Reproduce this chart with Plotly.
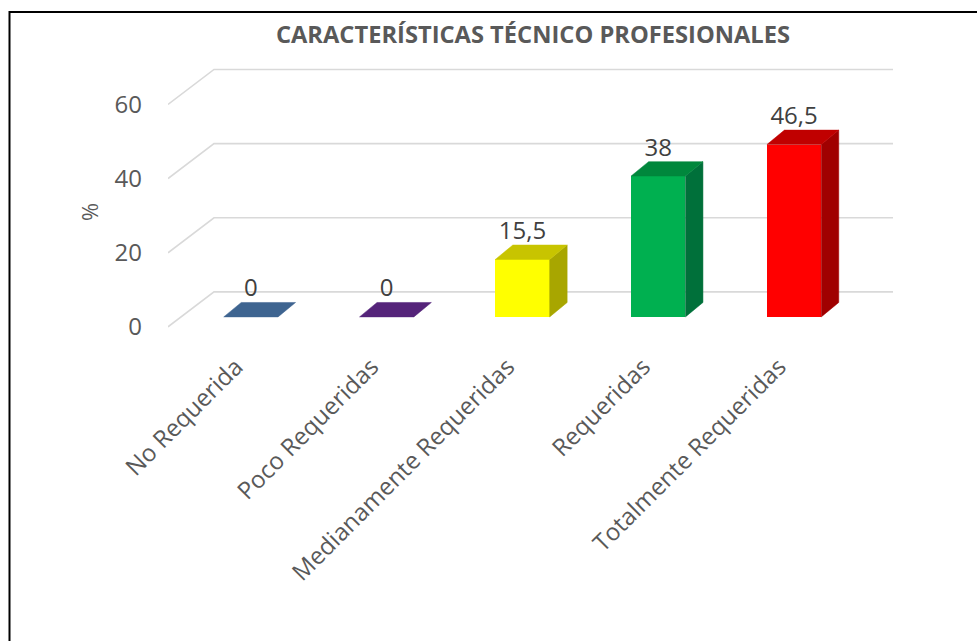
import plotly.graph_objects as go

# ---- data ----
categories = ["No Requerida", "Poco Requeridas", "Medianamente Requeridas",
              "Requeridas", "Totalmente Requeridas"]
values = [0, 0, 15.5, 38, 46.5]
y_ticks = [0, 20, 40, 60]
front_colors = ["#4472C4", "#7030A0", "#FFFF00", "#00B050", "#FF0000"]
top_colors = ["#3E6490", "#55247A", "#C8C400", "#00873C", "#C00000"]
side_colors = ["#335582", "#451E66", "#A8A600", "#00703A", "#A00000"]
title_text = "CARACTERÍSTICAS TÉCNICO PROFESIONALES"
y_title = "%"

# ---- layout geometry (pixels) ----
W, H = 977, 641
L, R, T, B = 168, 84, 60, 303
X_MIN, Y_MIN, Y_MAX = -0.5, -3, 72
WALL_DX, WALL_DY = 46, 35          # depth of the 3D walls
BAR_OFF_DX, BAR_OFF_DY = 15, 10    # bar front face offset from front plane
BAR_DX, BAR_DY = 17.5, 14.4        # bar depth
BAR_W = 0.4                        # bar width as fraction of category

n = len(categories)
plot_w = W - L - R
plot_h = H - T - B
ppx = (plot_w - WALL_DX) / n
ppy = plot_h / (Y_MAX - Y_MIN)
x_max = X_MIN + plot_w / ppx


def ux(p):
    return p / ppx


def uy(p):
    return p / ppy


fig = go.Figure()

# gridlines (drawn below the bars)
shapes = []
for v in y_ticks:
    x0, x1, x2 = X_MIN, X_MIN + ux(WALL_DX), x_max
    y0, y1 = v, v + uy(WALL_DY)
    shapes.append(dict(type="path", xref="x", yref="y", layer="below",
                       path=f"M {x0},{y0} L {x1},{y1} L {x2},{y1}",
                       line=dict(color="#D9D9D9", width=1.6)))

ox, oy = ux(BAR_OFF_DX), uy(BAR_OFF_DY)
ddx, ddy = ux(BAR_DX), uy(BAR_DY)
half = BAR_W / 2
centers = [i + ox for i in range(n)]

# front faces
fig.add_trace(go.Bar(x=centers, y=values, base=oy, width=BAR_W,
                     marker=dict(color=front_colors, line=dict(width=0)),
                     hoverinfo="skip", showlegend=False))

# side and top faces
for i, v in enumerate(values):
    c = centers[i]
    top = oy + v
    if v > 0:
        fig.add_trace(go.Scatter(
            x=[c + half, c + half, c + half + ddx, c + half + ddx, c + half],
            y=[oy, top, top + ddy, oy + ddy, oy],
            mode="lines", fill="toself", fillcolor=side_colors[i],
            line=dict(width=0.5, color=side_colors[i]),
            hoverinfo="skip", showlegend=False))
    fig.add_trace(go.Scatter(
        x=[c - half, c + half, c + half + ddx, c - half + ddx, c - half],
        y=[top, top, top + ddy, top + ddy, top],
        mode="lines", fill="toself", fillcolor=top_colors[i],
        line=dict(width=0.5, color=top_colors[i]),
        hoverinfo="skip", showlegend=False))

# data labels
labels = [(f"{v:g}").replace(".", ",") for v in values]
fig.add_trace(go.Scatter(
    x=centers, y=[oy + v + ddy for v in values], mode="text", text=labels,
    textposition="top center",
    textfont=dict(family="Open Sans", size=24, color="#404040"),
    hoverinfo="skip", showlegend=False))

shapes.append(dict(type="rect", xref="paper", yref="paper",
                   x0=(9.5 - L) / plot_w, x1=(W + 5 - L) / plot_w,
                   y0=(H - B - (H + 5)) / plot_h, y1=(H - B - 12) / plot_h,
                   line=dict(color="black", width=2),
                   fillcolor="rgba(0,0,0,0)", layer="above"))

fig.update_layout(
    width=W, height=H,
    margin=dict(l=L, r=R, t=T, b=B, autoexpand=False),
    paper_bgcolor="white", plot_bgcolor="white",
    bargap=0,
    xaxis=dict(range=[X_MIN, x_max], tickvals=list(range(n)),
               ticktext=categories, tickangle=-45, showgrid=False,
               zeroline=False, showline=False, ticks="",
               ticklabelstandoff=9,
               tickfont=dict(family="Open Sans", size=24, color="#595959"),
               fixedrange=True),
    yaxis=dict(range=[Y_MIN, Y_MAX], tickvals=y_ticks, showgrid=False,
               zeroline=False, showline=False, ticks="",
               ticklabelstandoff=25,
               tickfont=dict(family="Open Sans", size=24, color="#595959"),
               fixedrange=True),
    title=dict(text=title_text, xref="container", yref="container",
               x=533 / W, y=1 - 35 / H, xanchor="center", yanchor="middle",
               font=dict(family="Open Sans", size=23.7,
                         color="#595959", weight="bold")),
    annotations=[dict(text=y_title, xref="paper", yref="paper",
                      x=(89 - L) / plot_w, y=(H - B - 212) / plot_h,
                      xanchor="center", yanchor="middle", textangle=-90,
                      showarrow=False,
                      font=dict(family="Open Sans", size=22, color="#595959"))],
    shapes=shapes,
)

fig.write_html("out.html", config={"displayModeBar": False},
               post_script="document.body.style.margin='0px';")
